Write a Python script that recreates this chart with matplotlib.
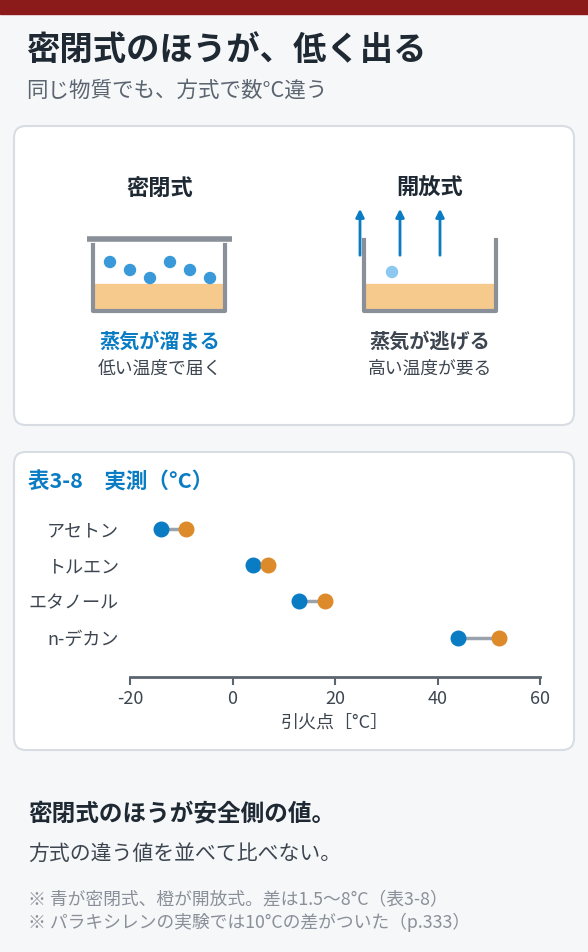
import matplotlib.pyplot as plt
from matplotlib.patches import FancyBboxPatch, Rectangle, Circle

plt.rcParams['font.family'] = ['Noto Sans CJK JP', 'DejaVu Sans']

# data
substances = ['アセトン', 'トルエン', 'エタノール', 'n-デカン']
closed_cup = [-14, 4, 13, 44]
open_cup = [-9, 7, 18, 52]
xticks = [-20, 0, 20, 40, 60]

BLUE = '#0a7cc4'
ORANGE = '#dd8a2a'
DARK = '#1f2933'
GRAY = '#5b6570'
W, H = 588, 952

fig = plt.figure(figsize=(W / 100, H / 100), dpi=100)
fig.patch.set_facecolor('#f6f7f9')
bg = fig.add_axes([0, 0, 1, 1])
bg.set_xlim(0, W)
bg.set_ylim(H, 0)
bg.axis('off')

bg.add_patch(Rectangle((0, 0), W, 14, color='#8b1a1a'))
bg.text(26, 50, '密閉式のほうが、低く出る', fontsize=24, fontweight='bold', color=DARK, va='center')
bg.text(26, 91, '同じ物質でも、方式で数°C違う', fontsize=15.5, color=GRAY, va='center')

for y0, y1 in [(126, 425), (452, 750)]:
    bg.add_patch(FancyBboxPatch((14, y0), 560, y1 - y0, boxstyle='round,pad=0,rounding_size=12',
                                facecolor='white', edgecolor='#d8dde3', lw=1.5))

# closed cup illustration
wall = '#8a9099'
bg.text(160, 188, '密閉式', fontsize=16, fontweight='bold', color=DARK, ha='center', va='center')
bg.add_patch(Rectangle((95, 284), 127, 26, color='#f6c98d'))
bg.plot([87, 232], [239, 239], color=wall, lw=4, solid_capstyle='butt')
bg.plot([93, 93, 225, 225], [245, 311, 311, 245], color=wall, lw=3)
for x, y in [(110, 262), (130, 270), (150, 278), (170, 262), (190, 270), (210, 278)]:
    bg.add_patch(Circle((x, y), 5.5, color='#3a9ad9'))
bg.text(160, 341, '蒸気が溜まる', fontsize=14.5, fontweight='bold', color=BLUE, ha='center', va='center')
bg.text(160, 369, '低い温度で届く', fontsize=12.8, color='#3d4650', ha='center', va='center')

# open cup illustration
bg.text(430, 188, '開放式', fontsize=16, fontweight='bold', color=DARK, ha='center', va='center')
bg.add_patch(Rectangle((366, 284), 127, 26, color='#f6c98d'))
bg.plot([364, 364, 496, 496], [240, 311, 311, 240], color=wall, lw=3)
for x in [360, 400, 440]:
    bg.annotate('', xy=(x, 206), xytext=(x, 258),
                arrowprops=dict(arrowstyle='-|>', color=BLUE, lw=2, mutation_scale=12))
bg.add_patch(Circle((392, 272), 5.5, color='#8cc8ef'))
bg.text(430, 341, '蒸気が逃げる', fontsize=14.5, fontweight='bold', color='#3d4650', ha='center', va='center')
bg.text(430, 369, '高い温度が要る', fontsize=12.8, color='#3d4650', ha='center', va='center')

# chart card
bg.text(28, 482, '表3-8　実測（°C）', fontsize=15.5, fontweight='bold', color=BLUE, va='center')

ax = fig.add_axes([130 / W, (H - 677) / H, 410 / W, (677 - 510) / H])
ax.set_facecolor('none')
ax.set_xlim(-20, 60)
ax.set_ylim(4.08, -0.52)
ypos = list(range(len(substances)))
for y, c, o in zip(ypos, closed_cup, open_cup):
    ax.plot([c, o], [y, y], color='#9aa3ad', lw=2.5, zorder=1)
ax.scatter(closed_cup, ypos, s=110, color=BLUE, zorder=3)
ax.scatter(open_cup, ypos, s=110, color=ORANGE, zorder=3)
ax.set_yticks(ypos)
ax.set_yticklabels(substances, fontsize=13, color='#3d4650')
ax.tick_params(axis='y', length=0, pad=8)
ax.set_xticks(xticks)
ax.set_xticklabels([str(t) for t in xticks], fontsize=13, color='#3d4650')
ax.tick_params(axis='x', colors='#5b6570', length=6, width=1.5, labelcolor='#3d4650')
for s in ['top', 'right', 'left']:
    ax.spines[s].set_visible(False)
ax.spines['bottom'].set_color('#5b6570')
ax.spines['bottom'].set_linewidth(2)
ax.set_xlabel('引火点［°C］', fontsize=13, color='#3d4650', labelpad=4)

# notes
bg.text(28, 813, '密閉式のほうが安全側の値。', fontsize=17, fontweight='bold', color=DARK, va='center')
bg.text(28, 854, '方式の違う値を並べて比べない。', fontsize=15, color='#3d4650', va='center')
bg.text(28, 899, '※ 青が密閉式、橙が開放式。差は1.5〜8°C（表3-8）', fontsize=12.8, color='#8a9099', va='center')
bg.text(28, 922, '※ パラキシレンの実験では10°Cの差がついた（p.333）', fontsize=12.8, color='#8a9099', va='center')

fig.savefig('out.png', dpi=100, facecolor=fig.get_facecolor())
